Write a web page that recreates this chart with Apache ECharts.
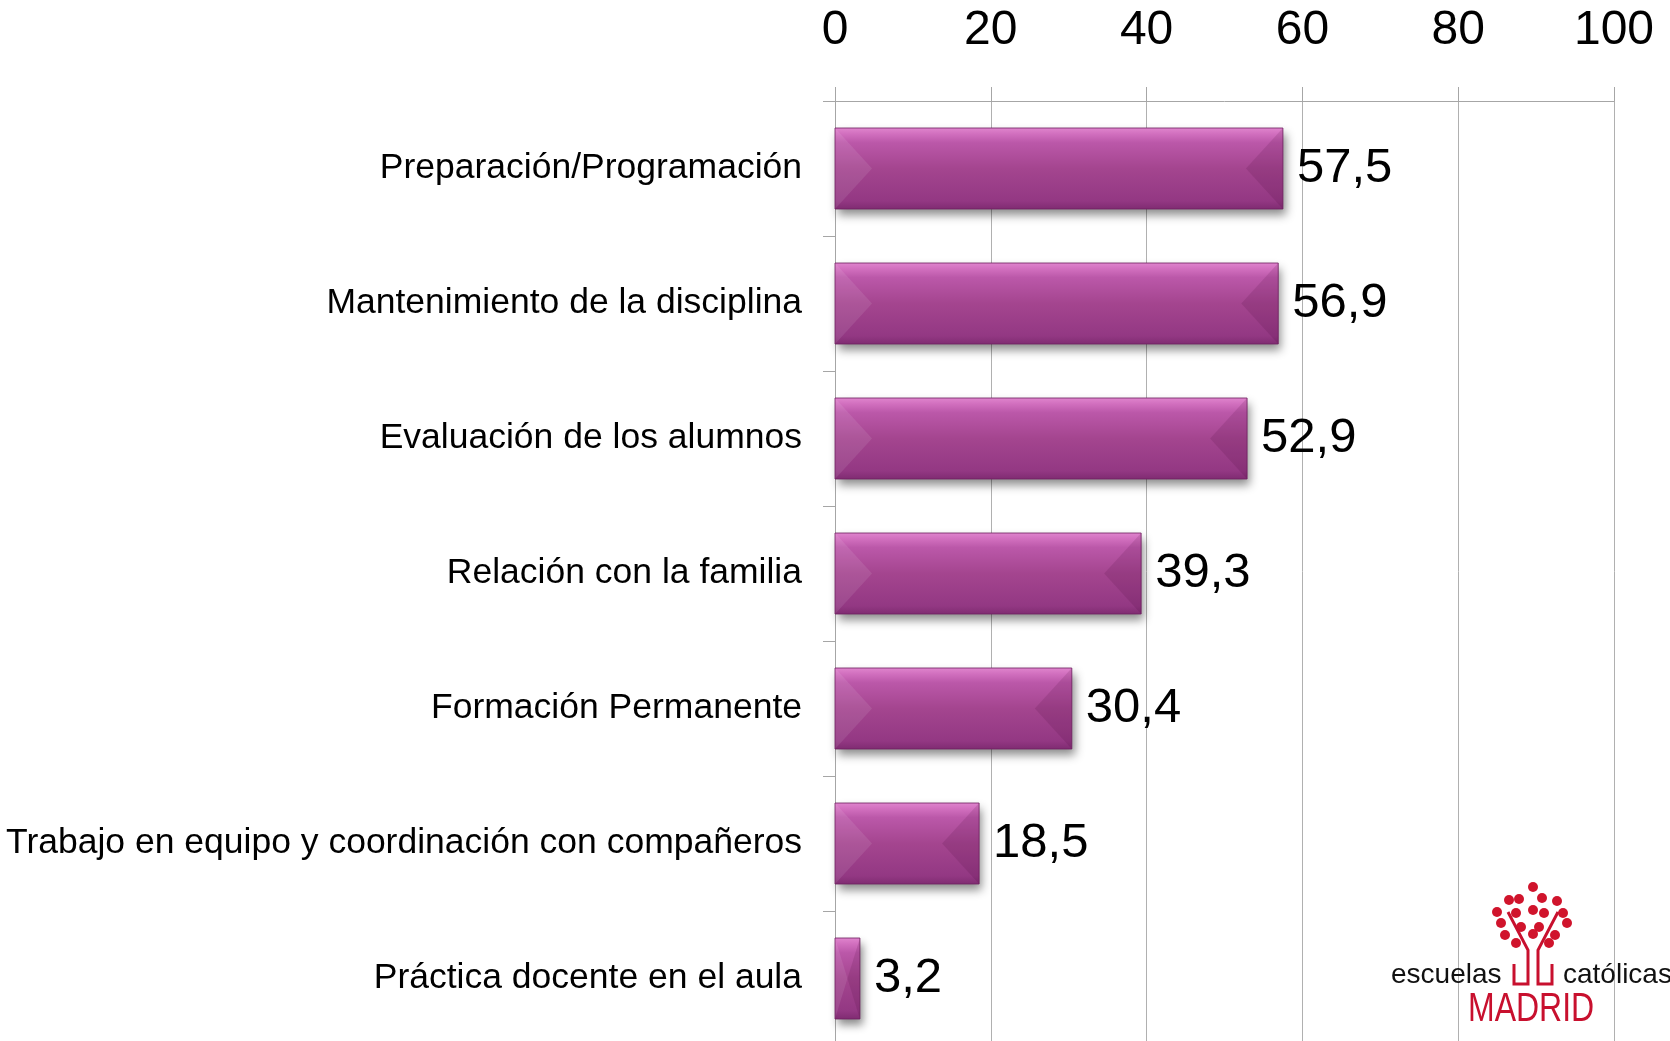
<!DOCTYPE html>
<html>
<head>
<meta charset="utf-8">
<title>Chart</title>
<script src="https://cdn.jsdelivr.net/npm/echarts@6/dist/echarts.min.js"></script>
<style>
  html, body { margin: 0; padding: 0; background: #fff; }
  #main { width: 1670px; height: 1041px; }
</style>
</head>
<body>
<div id="main"></div>
<script>
// datos
var categories = [
    'Preparación/Programación',
    'Mantenimiento de la disciplina',
    'Evaluación de los alumnos',
    'Relación con la familia',
    'Formación Permanente',
    'Trabajo en equipo y coordinación con compañeros',
    'Práctica docente en el aula'
];
var values = [57.5, 56.9, 52.9, 39.3, 30.4, 18.5, 3.2];
var axisMin = 0;
var axisMax = 100;
var axisStep = 20;

var myChart = echarts.init(document.getElementById('main'));

// relieve de las barras (triángulos laterales)
function renderBevel(params, api) {
    var idx = api.value(1);
    var start = api.coord([0, idx]);
    var end = api.coord([api.value(0), idx]);
    var h = api.size([0, 1])[1] * 0.6;
    var top = start[1] - h / 2;
    var bot = start[1] + h / 2;
    var mid = start[1];
    var x0 = start[0];
    var x1 = end[0];
    var d = Math.min(37, (x1 - x0) / 2);
    return {
        type: 'group',
        children: [
            {
                type: 'polygon',
                shape: { points: [[x0, top], [x0 + d, mid], [x0, bot]] },
                style: { fill: 'rgba(255,255,255,0.09)' }
            },
            {
                type: 'polygon',
                shape: { points: [[x1, top], [x1 - d, mid], [x1, bot]] },
                style: { fill: 'rgba(60,0,50,0.13)' }
            },
            {
                type: 'rect',
                shape: { x: x0, y: top, width: x1 - x0, height: h },
                style: { fill: 'none', stroke: 'rgba(110,30,95,0.8)', lineWidth: 1 }
            }
        ]
    };
}

// logo abajo a la derecha
var dots = [
    [1533, 887], [1509, 900], [1519, 899], [1542, 898], [1557, 901],
    [1497, 912], [1516, 913], [1533, 910], [1544, 913], [1563, 913],
    [1501, 923], [1567, 923], [1521, 927], [1539, 927],
    [1505, 935], [1533, 934], [1555, 935], [1516, 943], [1549, 943]
];
var logo = dots.map(function (p) {
    return {
        type: 'circle',
        shape: { cx: p[0], cy: p[1], r: 5 },
        style: { fill: '#d0142c' },
        z: 10
    };
});
logo.push(
    {
        type: 'polyline',
        shape: { points: [[1508, 912], [1528, 950], [1528, 984], [1514, 984], [1514, 964]] },
        style: { stroke: '#c8102e', lineWidth: 3, fill: null },
        z: 10
    },
    {
        type: 'polyline',
        shape: { points: [[1558, 912], [1538, 950], [1538, 984], [1552, 984], [1552, 964]] },
        style: { stroke: '#c8102e', lineWidth: 3, fill: null },
        z: 10
    },
    {
        type: 'text',
        x: 1391, y: 961,
        style: { text: 'escuelas', fill: '#111', font: '28px "Liberation Sans", Arial, sans-serif' },
        z: 10
    },
    {
        type: 'text',
        x: 1563, y: 961,
        style: { text: 'católicas', fill: '#111', font: '28px "Liberation Sans", Arial, sans-serif' },
        z: 10
    },
    {
        type: 'text',
        x: 1468, y: 990,
        scaleX: 0.8,
        style: { text: 'MADRID', fill: '#c8102e', font: '40px "Liberation Sans", Arial, sans-serif' },
        z: 10
    }
);

var option = {
    backgroundColor: '#fff',
    animation: false,
    grid: {
        left: 835,
        top: 101,
        width: 779,
        height: 945,
        containLabel: false,
        outerBoundsMode: 'none'
    },
    xAxis: {
        type: 'value',
        position: 'top',
        min: axisMin,
        max: axisMax,
        interval: axisStep,
        axisLine: {
            show: true,
            lineStyle: { color: '#a6a6a6', width: 1 }
        },
        axisTick: {
            show: true,
            length: 14,
            lineStyle: { color: '#a6a6a6' }
        },
        axisLabel: {
            color: '#000',
            fontSize: 48,
            fontFamily: '"Liberation Sans", Arial, sans-serif',
            margin: 46
        },
        splitLine: {
            show: true,
            lineStyle: { color: '#b0b0b0', width: 1 }
        }
    },
    yAxis: {
        type: 'category',
        data: categories,
        inverse: true,
        axisLine: {
            show: true,
            lineStyle: { color: '#a6a6a6', width: 1 }
        },
        axisTick: {
            show: true,
            length: 12,
            lineStyle: { color: '#a6a6a6' }
        },
        axisLabel: {
            color: '#000',
            fontSize: 35.5,
            fontFamily: '"Liberation Sans", Arial, sans-serif',
            margin: 33,
            padding: [6, 0, 0, 0]
        }
    },
    series: [
        {
            name: 'valor',
            type: 'bar',
            data: values,
            barWidth: '60%',
            itemStyle: {
                color: {
                    type: 'linear',
                    x: 0, y: 0, x2: 0, y2: 1,
                    colorStops: [
                        { offset: 0, color: '#df84cd' },
                        { offset: 0.07, color: '#d270bf' },
                        { offset: 0.18, color: '#bb58a9' },
                        { offset: 0.5, color: '#a4458f' },
                        { offset: 0.9, color: '#933883' },
                        { offset: 1, color: '#802c72' }
                    ]
                },
                shadowColor: 'rgba(0,0,0,0.45)',
                shadowBlur: 9,
                shadowOffsetX: 3,
                shadowOffsetY: 6
            },
            label: {
                show: true,
                position: 'right',
                distance: 14,
                color: '#000',
                fontSize: 49,
                fontFamily: '"Liberation Sans", Arial, sans-serif',
                padding: [7, 0, 0, 0],
                formatter: function (p) {
                    return String(p.value).replace('.', ',');
                }
            }
        },
        {
            name: 'relieve',
            type: 'custom',
            silent: true,
            renderItem: renderBevel,
            data: values.map(function (v, i) { return [v, i]; }),
            z: 3
        }
    ],
    graphic: logo
};

myChart.setOption(option);
window.addEventListener('resize', function () {
    myChart.resize();
});
</script>
</body>
</html>
